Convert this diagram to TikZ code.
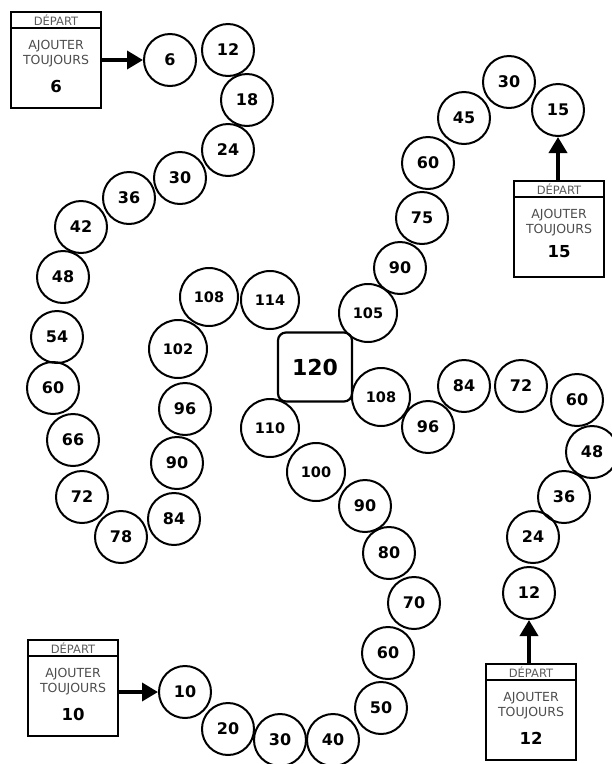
\documentclass[tikz,border=0pt]{standalone}
\usepackage{fontspec}
\setmainfont{DejaVu Sans}
\usetikzlibrary{positioning, arrows.meta}

\begin{document}
\begin{tikzpicture}[
        x=1pt, y=-1pt,
        % Cases du parcours
        cell/.style={
            circle,
            draw,
            line width=2pt,
            minimum size=52pt,
            inner sep=0pt,
            font=\bfseries\fontsize{16}{18}\selectfont
        },
        bigcell/.style={cell, minimum size=58pt, font=\bfseries\fontsize{14.5}{16}\selectfont},
        goal/.style={
            draw,
            rounded corners=8pt,
            line width=2.2pt,
            minimum width=74pt,
            minimum height=69pt,
            font=\bfseries\fontsize{22}{25}\selectfont
        },
        % Cartes de depart
        startbox/.style={draw, line width=2.4pt, minimum width=90pt, minimum height=96pt, outer sep=0pt},
        head/.style={draw, line width=2.4pt, minimum width=90pt, minimum height=16pt, inner sep=0pt, outer sep=0pt,
            font=\fontsize{11.5}{13}\selectfont, text=black!65},
        rule/.style={align=center, inner sep=0pt, font=\fontsize{12.5}{15}\selectfont, text=black!70},
        addend/.style={inner sep=0pt, font=\bfseries\fontsize{16.5}{19}\selectfont},
        % Fleches
        go/.style={line width=3.6pt, -{Triangle[length=16pt, width=18pt]}}
    ]
    \useasboundingbox (0,0) rectangle (612,764);

    % -- Parcours de 6 --
    \foreach \v/\x/\y in {6/170/60, 12/228/50, 18/247/100, 24/228/150, 30/180/178, 36/129/198,
        42/81/227, 48/63/277, 54/57/337, 60/53/388, 66/73/440, 72/82/497, 78/121/537,
        84/174/519, 90/177/463, 96/185/409}
        \node[cell] (six-\v) at (\x,\y) {\v};
    \foreach \v/\x/\y in {102/178/349, 108/209/297, 114/270/300}
        \node[bigcell] (six-\v) at (\x,\y) {\v};

    % -- Parcours de 15 --
    \foreach \v/\x/\y in {15/558/110, 30/509/82, 45/464/118, 60/428/163, 75/422/218, 90/400/268}
        \node[cell] (fifteen-\v) at (\x,\y) {\v};
    \node[bigcell] (fifteen-105) at (368,313) {105};

    % -- Parcours de 12 --
    \foreach \v/\x/\y in {12/529/593, 24/533/537, 36/564/497, 48/592/452, 60/577/400,
        72/521/386, 84/464/386, 96/428/427}
        \node[cell] (twelve-\v) at (\x,\y) {\v};
    \node[bigcell] (twelve-108) at (381,397) {108};

    % -- Parcours de 10 --
    \foreach \v/\x/\y in {10/185/692, 20/228/729, 30/280/740, 40/333/740, 50/381/708,
        60/388/653, 70/414/603, 80/389/553, 90/365/506}
        \node[cell] (ten-\v) at (\x,\y) {\v};
    \foreach \v/\x/\y in {100/316/472, 110/270/428}
        \node[bigcell] (ten-\v) at (\x,\y) {\v};

    % -- Arrivee --
    \node[goal] (end) at (315,367) {120};

    % -- Cartes de depart --
    \node[startbox] (s6) at (56,60) {};
    \node[head, anchor=north] (h6) at (s6.north) {DÉPART};
    \node[rule, below=12pt of h6] (r6) {AJOUTER\\TOUJOURS};
    \node[addend, below=13pt of r6] (n6) {6};

    \node[startbox] (s15) at (559,229) {};
    \node[head, anchor=north] (h15) at (s15.north) {DÉPART};
    \node[rule, below=12pt of h15] (r15) {AJOUTER\\TOUJOURS};
    \node[addend, below=9pt of r15] (n15) {15};

    \node[startbox] (s10) at (73,688) {};
    \node[head, anchor=north] (h10) at (s10.north) {DÉPART};
    \node[rule, below=12pt of h10] (r10) {AJOUTER\\TOUJOURS};
    \node[addend, below=13pt of r10] (n10) {10};

    \node[startbox] (s12) at (531,712) {};
    \node[head, anchor=north] (h12) at (s12.north) {DÉPART};
    \node[rule, below=12pt of h12] (r12) {AJOUTER\\TOUJOURS};
    \node[addend, below=13pt of r12] (n12) {12};

    % -- Fleches de depart --
    \draw[go] (s6) -- (six-6);
    \draw[go] (fifteen-15.south |- s15.north) -- (fifteen-15);
    \draw[go] (ten-10.west -| s10.east) -- (ten-10);
    \draw[go] (twelve-12.south |- s12.north) -- (twelve-12);

\end{tikzpicture}
\end{document}
